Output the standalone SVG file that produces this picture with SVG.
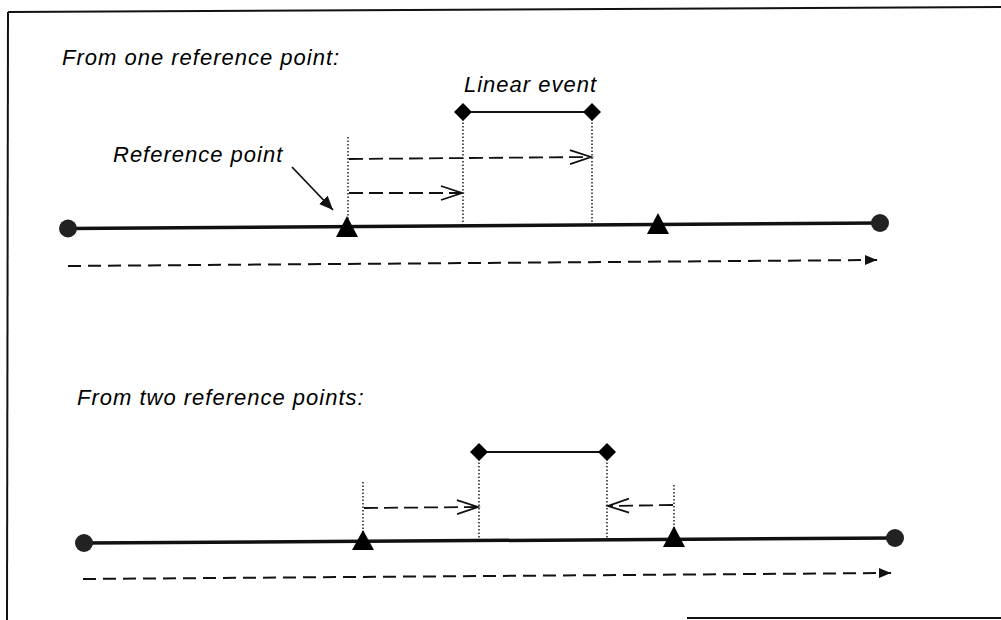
<svg xmlns="http://www.w3.org/2000/svg" width="1001" height="620" viewBox="0 0 1001 620">
  <style>
    .label { font-family: "Liberation Sans", Arial, sans-serif; font-style: italic; font-size: 22px; letter-spacing: 1px; fill: #000; }
    .frame { stroke: #111; stroke-width: 2; fill: none; }
    .route { stroke: #111; stroke-width: 3.5; fill: none; }
    .direction { stroke: #111; stroke-width: 2; stroke-dasharray: 13 7; fill: none; }
    .measure { stroke: #111; stroke-width: 1.8; stroke-dasharray: 14 6; fill: none; }
    .guide { stroke: #111; stroke-width: 1.4; stroke-dasharray: 1.5 2; fill: none; }
    .span { stroke: #111; stroke-width: 1.8; fill: none; }
    .end { fill: #222; }
    .refpt { fill: #000; }
    .vertex { fill: #000; }
  </style>
  <defs>
    <marker id="open" markerUnits="userSpaceOnUse" markerWidth="26" markerHeight="18" refX="22" refY="8" orient="auto">
      <path d="M1,1 L22,8 L1,15" fill="none" stroke="#111" stroke-width="1.8"/>
    </marker>
    <marker id="solid" markerUnits="userSpaceOnUse" markerWidth="14" markerHeight="12" refX="12" refY="5" orient="auto">
      <path d="M0,0 L12,5 L0,10 Z" fill="#111"/>
    </marker>
    <marker id="pointer" markerUnits="userSpaceOnUse" markerWidth="16" markerHeight="14" refX="14" refY="6" orient="auto">
      <path d="M0,0 L14,6 L0,12 Z" fill="#111"/>
    </marker>
  </defs>

  <!-- page frame -->
  <g id="frame">
    <path class="frame" d="M8,12 L1001,7"/>
    <path class="frame" d="M8,12 L7,620"/>
    <path class="frame" d="M687,618 L1001,618"/>
  </g>

  <!-- labels -->
  <g id="labels">
    <text class="label" x="62" y="65">From one reference point:</text>
    <text class="label" x="464" y="92">Linear event</text>
    <text class="label" x="113" y="162">Reference point</text>
    <text class="label" x="77" y="405">From two reference points:</text>
  </g>

  <!-- connectors: routes, guides, measurements -->
  <g id="connectors">
    <!-- upper case: single reference point -->
    <path class="route" d="M68,228.5 L880,223"/>
    <path class="direction" d="M68,266 L877,260" marker-end="url(#solid)"/>
    <path class="guide" d="M348,137 L348,228"/>
    <path class="guide" d="M463,112 L463,226"/>
    <path class="guide" d="M592,112 L592,224"/>
    <path class="span" d="M463,112 L592,112"/>
    <path class="measure" d="M349,159 L591,157" marker-end="url(#open)"/>
    <path class="measure" d="M349,193 L462,193" marker-end="url(#open)"/>
    <path class="span" d="M292,167 L333,210" marker-end="url(#pointer)"/>

    <!-- lower case: two reference points -->
    <path class="route" d="M84,543 L895,538"/>
    <path class="direction" d="M83,579 L891,573" marker-end="url(#solid)"/>
    <path class="guide" d="M363,482 L363,542"/>
    <path class="guide" d="M674,485 L674,538"/>
    <path class="guide" d="M479,452 L479,541"/>
    <path class="guide" d="M607,452 L607,540"/>
    <path class="span" d="M479,452 L607,452"/>
    <path class="measure" d="M364,508 L478,507" marker-end="url(#open)"/>
    <path class="measure" d="M673,505 L608,506" marker-end="url(#open)"/>
  </g>

  <!-- route end points -->
  <g id="route-ends">
    <circle class="end" cx="68" cy="228.5" r="9"/>
    <circle class="end" cx="880" cy="223" r="9"/>
    <circle class="end" cx="84" cy="543" r="9"/>
    <circle class="end" cx="895" cy="538" r="9"/>
  </g>

  <!-- reference points -->
  <g id="ref-1a"><path class="refpt" d="M347,216 L358,237 L336,237 Z"/></g>
  <g id="ref-1b"><path class="refpt" d="M658,213 L669,234 L647,234 Z"/></g>
  <g id="ref-2a"><path class="refpt" d="M363,530 L374,550 L352,550 Z"/></g>
  <g id="ref-2b"><path class="refpt" d="M674,526 L685,547 L663,547 Z"/></g>

  <!-- linear event vertices -->
  <g id="event-1-start"><path class="vertex" d="M463,103 L472,112 L463,121 L454,112 Z"/></g>
  <g id="event-1-end"><path class="vertex" d="M592,103 L601,112 L592,121 L583,112 Z"/></g>
  <g id="event-2-start"><path class="vertex" d="M479,443 L488,452 L479,461 L470,452 Z"/></g>
  <g id="event-2-end"><path class="vertex" d="M607,443 L616,452 L607,461 L598,452 Z"/></g>
</svg>
